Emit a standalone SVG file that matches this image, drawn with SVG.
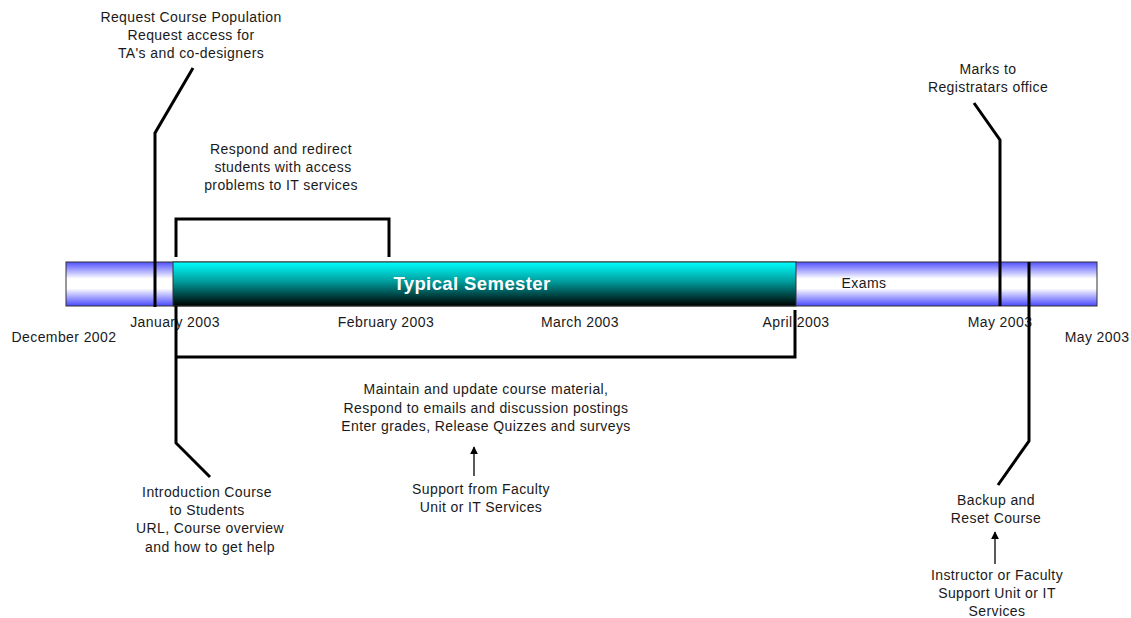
<svg xmlns="http://www.w3.org/2000/svg" width="1131" height="618" viewBox="0 0 1131 618">
<defs>
<linearGradient id="blueG" x1="0" y1="0" x2="0" y2="1">
<stop offset="0" stop-color="#5050ff"/>
<stop offset="0.38" stop-color="#ffffff"/>
<stop offset="0.6" stop-color="#ffffff"/>
<stop offset="1" stop-color="#4848ff"/>
</linearGradient>
<linearGradient id="tealG" x1="0" y1="0" x2="0" y2="1">
<stop offset="0" stop-color="#00ffff"/>
<stop offset="0.45" stop-color="#009a9a"/>
<stop offset="1" stop-color="#000000"/>
</linearGradient>
<marker id="arr" viewBox="0 0 10 10" refX="9" refY="5" markerWidth="8" markerHeight="10" markerUnits="userSpaceOnUse" orient="auto">
<path d="M0,0 L10,5 L0,10 z" fill="#000"/>
</marker>
<style>
text{font-family:"Liberation Sans",Arial,sans-serif;font-size:14px;letter-spacing:0.4px;fill:#1a1a1a;text-anchor:middle}
.ln{fill:none;stroke:#000;stroke-width:3;stroke-linejoin:miter}
.thin{fill:none;stroke:#000;stroke-width:1.3}
.title{fill:#fff;font-weight:bold;font-size:18.5px;letter-spacing:0.4px}
</style>
</defs>
<rect width="1131" height="618" fill="#fff"/>
<g id="bar">
<rect x="66" y="262" width="1031" height="44" fill="url(#blueG)" stroke="#333" stroke-width="1"/>
<rect x="173" y="262" width="623" height="44" fill="url(#tealG)" stroke="#333" stroke-width="1"/>
<text class="title" x="472" y="290">Typical Semester</text>
<text x="864" y="288">Exams</text>
</g>
<g id="axis-labels">
<text x="175" y="327">January 2003</text>
<text x="386" y="327">February 2003</text>
<text x="580" y="327">March 2003</text>
<text x="796" y="327">April 2003</text>
<text x="1000" y="327">May 2003</text>
<text x="64" y="342">December 2002</text>
<text x="1097" y="342">May 2003</text>
</g>
<g id="connectors">
<path class="ln" d="M193,68 L155,133 L155,307"/>
<path class="ln" d="M176,257 L176,219 L389,219 L389,257"/>
<path class="ln" d="M176,306 L176,443 L210,477"/>
<path class="ln" d="M176,357 L795,357 L795,310"/>
<path class="ln" d="M974,103 L1000,140 L1000,306"/>
<path class="ln" d="M1029,262 L1029,441 L998,485"/>
<path class="thin" d="M474,476 L474,447" marker-end="url(#arr)"/>
<path class="thin" d="M995,564 L995,532" marker-end="url(#arr)"/>
</g>
<g id="request">
<text x="191" y="22">Request Course Population</text>
<text x="191" y="40">Request access for</text>
<text x="191" y="58">TA's and co-designers</text>
</g>
<g id="respond">
<text x="281" y="154">Respond and redirect</text>
<text x="283" y="172">students with access</text>
<text x="281" y="190">problems to IT services</text>
</g>
<g id="marks">
<text x="988" y="74">Marks to</text>
<text x="988" y="92">Registratars office</text>
</g>
<g id="maintain">
<text x="486" y="394">Maintain and update course material,</text>
<text x="486" y="413">Respond to emails and discussion postings</text>
<text x="486" y="431">Enter grades, Release Quizzes and surveys</text>
</g>
<g id="support">
<text x="481" y="494">Support from Faculty</text>
<text x="481" y="512">Unit or IT Services</text>
</g>
<g id="intro">
<text x="207" y="497">Introduction Course</text>
<text x="207" y="515">to Students</text>
<text x="210" y="533">URL, Course overview</text>
<text x="210" y="552">and how to get help</text>
</g>
<g id="backup">
<text x="996" y="505">Backup and</text>
<text x="996" y="523">Reset Course</text>
</g>
<g id="instructor">
<text x="997" y="580">Instructor or Faculty</text>
<text x="997" y="598">Support Unit or IT</text>
<text x="997" y="616">Services</text>
</g>
</svg>
